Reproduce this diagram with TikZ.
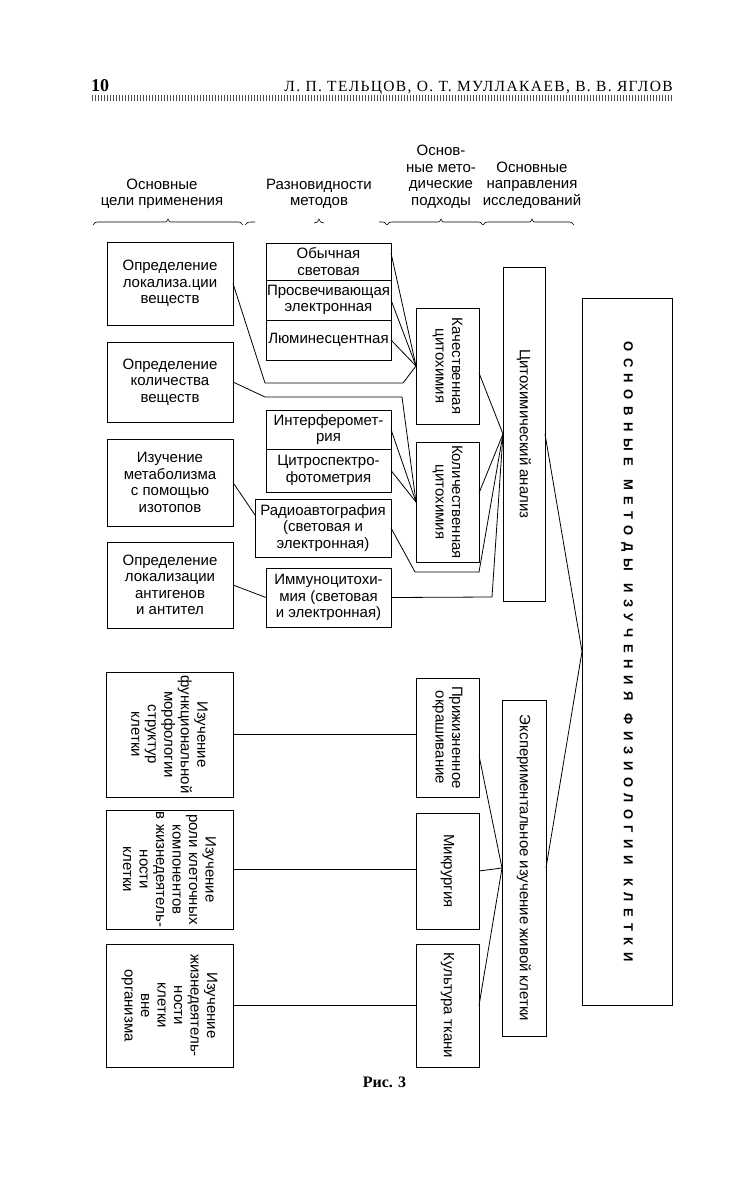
\documentclass[tikz,border=0pt]{standalone}
\usepackage{fontspec}
\setmainfont{Liberation Sans}
\newfontfamily\serifhead{Liberation Serif}
\newfontfamily\titlefont[LetterSpace=9]{Liberation Serif}
\newfontfamily\spacedfont[LetterSpace=50]{Liberation Sans}
\usetikzlibrary{calc}
\newcommand\fsz{\fontsize{15}{16.5}\selectfont}
\newcommand\wgap{\hspace{3pt}}
\newcommand\mybrace[4]{% x1, x2, tip, y
  \draw[brc] (#1,#4+3) .. controls (#1+2,#4) .. (#1+8,#4) -- (#3-5,#4) .. controls (#3-1,#4) .. (#3,#4-3) .. controls (#3+1,#4) .. (#3+5,#4) -- (#2-8,#4) .. controls (#2-2,#4) .. (#2,#4+3);}
\begin{document}
\begin{tikzpicture}[x=1pt,y=-1pt,
  box/.style={draw, line width=0.9pt, inner sep=0pt, outer sep=0pt, align=center, font=\fsz},
  ln/.style={line width=0.8pt},
  rot/.style={rotate=-90, align=center, font=\fsz},
  head/.style={align=center, font=\fsz},
  brc/.style={line width=0.6pt}]
\useasboundingbox (0,0) rectangle (755,1180);
\fill[white] (0,0) rectangle (755,1180);

% page header
\node[font=\serifhead\bfseries\fontsize{18}{18}\selectfont, anchor=base west, inner sep=0pt] (pg) at (91,92) {10};
\node[font=\titlefont\fontsize{15.5}{16}\selectfont, anchor=base east, inner sep=0pt] (ttl) at (673,92) {Л. П. ТЕЛЬЦОВ, О. Т. МУЛЛАКАЕВ, В. В. ЯГЛОВ};
\draw[line width=6pt, black!70, dash pattern=on 1.2pt off 1.8pt] (92,98.5) -- (673,98.5);

% column headings
\node[head] (h1) at (162,194) {Основные\\цели применения};
\node[head] (h2) at (319,194) {Разновидности\\методов};
\node[head] (h3) at (441,177) {Основ-\\ные мето-\\дические\\подходы};
\node[head] (h4) at (532,185) {Основные\\направления\\исследований};

\mybrace{93}{243}{168}{222}
\draw[brc] (245,225) .. controls (247,222) .. (255,222);
\draw[brc] (314,223) .. controls (318,222) .. (319,219) .. controls (320,222) .. (324,223);
\draw[brc] (379,222) .. controls (385,222) .. (387,225);
\mybrace{387}{483}{441}{222}
\mybrace{483}{574}{532}{222}

% left column (upper)
\node[box, minimum width=126, minimum height=83] (A) at (170,283.5) {Определение\\локализа.ции\\веществ};
\node[box, minimum width=126, minimum height=80] (B) at (170,382) {Определение\\количества\\веществ};
\node[box, minimum width=126, minimum height=87] (C) at (170,482.5) {Изучение\\метаболизма\\с помощью\\изотопов};
\node[box, minimum width=126, minimum height=86] (D) at (170,585) {Определение\\локализации\\антигенов\\и антител};

% methods
\node[box, minimum width=125, minimum height=37] (obych) at (328.5,261.5) {Обычная\\световая};
\node[box, minimum width=125, minimum height=40] (prosv) at (328.5,300) {Просвечивающая\\электронная};
\node[box, minimum width=125, minimum height=40] (lumin) at (328.5,340) {Люминесцентная};
\node[box, minimum width=125, minimum height=39] (interf) at (328.5,429.5) {Интерферомет-\\рия};
\node[box, minimum width=125, minimum height=43] (cytosp) at (328.5,470.5) {Цитроспектро-\\фотометрия};
\node[box, minimum width=136, minimum height=58] (radio) at (323,528) {Радиоавтография\\(световая и\\электронная)};
\node[box, minimum width=125, minimum height=59] (immuno) at (328.5,597.5) {Иммуноцитохи-\\мия (световая\\и электронная)};

% approaches
\node[box, minimum width=63, minimum height=116, label={[rot]center:{Качественная\\цитохимия}}] (kach) at (447.5,366) {};
\node[box, minimum width=63, minimum height=120, label={[rot]center:{Количественная\\цитохимия}}] (kol) at (447.5,502) {};

% directions
\node[box, minimum width=42, minimum height=334, label={[rot]center:{Цитохимический анализ}}] (cyto) at (524,434) {};
\node[box, minimum width=44, minimum height=336, label={[rot]center:{Экспериментальное изучение живой клетки}}] (exp) at (524,868) {};

% main box
\node[box, minimum width=90, minimum height=707, label={[rotate=-90, font=\spacedfont\bfseries\fontsize{13}{14}\selectfont]center:{ОСНОВНЫЕ\wgap{} МЕТОДЫ\wgap{} ИЗУЧЕНИЯ\wgap{} ФИЗИОЛОГИИ\wgap{} КЛЕТКИ}}] (big) at (627,651.5) {};

% lower part
\node[box, minimum width=127, minimum height=125, label={[rot]center:{Изучение\\функциональной\\морфологии\\структур\\клетки}}] (L1) at (169.5,734.5) {};
\node[box, minimum width=127, minimum height=119, label={[rot]center:{Изучение\\роли клеточных\\компонентов\\в жизнедеятель-\\ности\\клетки}}] (L2) at (169.5,869.5) {};
\node[box, minimum width=127, minimum height=123, label={[rot]center:{Изучение\\жизнедеятель-\\ности\\клетки\\вне\\организма}}] (L3) at (169.5,1005.5) {};
\node[box, minimum width=63, minimum height=119, label={[rot]center:{Прижизненное\\окрашивание}}] (prig) at (447.5,737.5) {};
\node[box, minimum width=63, minimum height=116, label={[rot]center:{Микрургия}}] (mikr) at (447.5,871) {};
\node[box, minimum width=63, minimum height=123, label={[rot]center:{Культура ткани}}] (kult) at (447.5,1005.5) {};

% connectors (upper)
\draw[ln] (A.east) -- (265,383) -- (403,383) -- (kach.west);
\draw[ln] ([yshift=8.5pt]obych.east) -- (kach.west);
\draw[ln] (prosv.east) -- (kach.west);
\draw[ln] (lumin.east) -- (kach.west);
\draw[ln] (B.east) -- (265,397) -- (402,397) -- (kol.west);
\draw[ln] (interf.east) -- (kol.west);
\draw[ln] (cytosp.east) -- (kol.west);
\draw[ln] (C.east) -- ([yshift=13pt]radio.west);
\draw[ln] (D.east) -- (immuno.west);
\draw[ln] (radio.east) -- (415,572) -- (479,572) -- (cyto.west);
\draw[ln] (immuno.east) -- (492,597) -- (cyto.west);
\draw[ln] ([yshift=-7pt]kach.east) -- (cyto.west);
\draw[ln] ([yshift=9pt]kol.east) -- (cyto.west);
\draw[ln] (cyto.east) -- (big.west);
\draw[ln] (exp.east) -- (big.west);

% connectors (lower)
\draw[ln] (L1.east) -- (L1.east -| prig.west);
\draw[ln] (L2.east) -- (L2.east -| mikr.west);
\draw[ln] (L3.east) -- (L3.east -| kult.west);
\draw[ln] ([yshift=-18pt]prig.east) -- (exp.west);
\draw[ln] (mikr.east) -- (exp.west);
\draw[ln] (kult.east) -- (exp.west);

\node[font=\serifhead\bfseries\fontsize{16}{16}\selectfont, anchor=base, inner sep=0pt] (cap) at (384.5,1087) {Рис. 3};
\end{tikzpicture}
\end{document}
